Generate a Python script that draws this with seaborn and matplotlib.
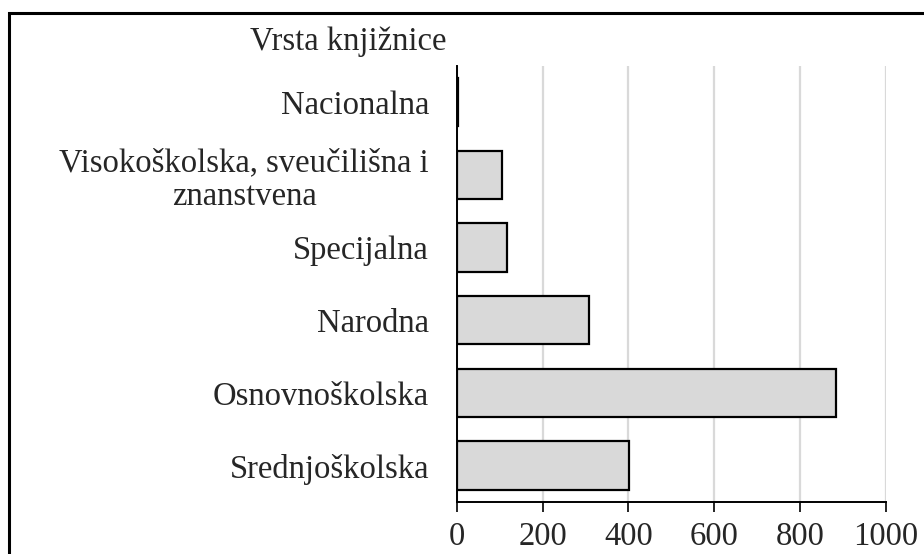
import numpy as np
import pandas as pd
import matplotlib
matplotlib.use("Agg")
import matplotlib.pyplot as plt
import seaborn as sns
from matplotlib.patches import Rectangle

#%% data
categories = ["Nacionalna",
              "Visokoškolska, sveučilišna i\nznanstvena",
              "Specijalna",
              "Narodna",
              "Osnovnoškolska",
              "Srednjoškolska"]
counts = [2, 105, 118, 309, 884, 402]
x_ticks = [0, 200, 400, 600, 800, 1000]
title_text = "Vrsta knjižnice"

df = pd.DataFrame({"vrsta": categories, "broj": counts})

#%% style
sns.set_style("white")
plt.rcParams["font.family"] = ["Liberation Serif", "DejaVu Serif"]

fig = plt.figure(figsize=(9.24, 5.54), dpi=100)
ax = fig.add_axes([0.4943, 0.0939, 0.9585 - 0.4943, 0.8809 - 0.0939])

sns.barplot(data=df, x="broj", y="vrsta", orient="h", color="#d9d9d9",
            edgecolor="black", linewidth=1.6, width=0.665, saturation=1, ax=ax)

ax.set_xlim(0, 1000)
ax.set_xticks(x_ticks)
ax.set_xticklabels([str(t) for t in x_ticks], fontsize=23.5)
# white style hides tick marks, the reference has them on the x axis
ax.tick_params(axis="x", bottom=True, direction="out", length=7, width=1.2,
               color="black", pad=7)
ax.tick_params(axis="y", left=False, length=0, pad=20, labelsize=23.5)
for lab in ax.get_yticklabels():
    lab.set_multialignment("center")
    lab.set_linespacing(1.12)

ax.xaxis.grid(True, color="#d9d9d9", linewidth=1.6)
ax.set_axisbelow(True)
ax.set_xlabel("")
ax.set_ylabel("")
sns.despine(ax=ax, top=True, right=True)
ax.spines["left"].set_color("black")
ax.spines["bottom"].set_color("black")
ax.spines["left"].set_linewidth(1.4)
ax.spines["bottom"].set_linewidth(1.4)

fig.text(447 / 924, 1 - 50 / 554, title_text, ha="right", va="baseline", fontsize=23.5)

# frame round the chart (continues beyond right/bottom edge)
fig.patches.append(Rectangle((9 / 924, -0.1), 1.2, 1 - 13 / 554 + 0.1,
                             transform=fig.transFigure, fill=False,
                             edgecolor="black", linewidth=2.2))

plt.savefig("out.png", dpi=100)
